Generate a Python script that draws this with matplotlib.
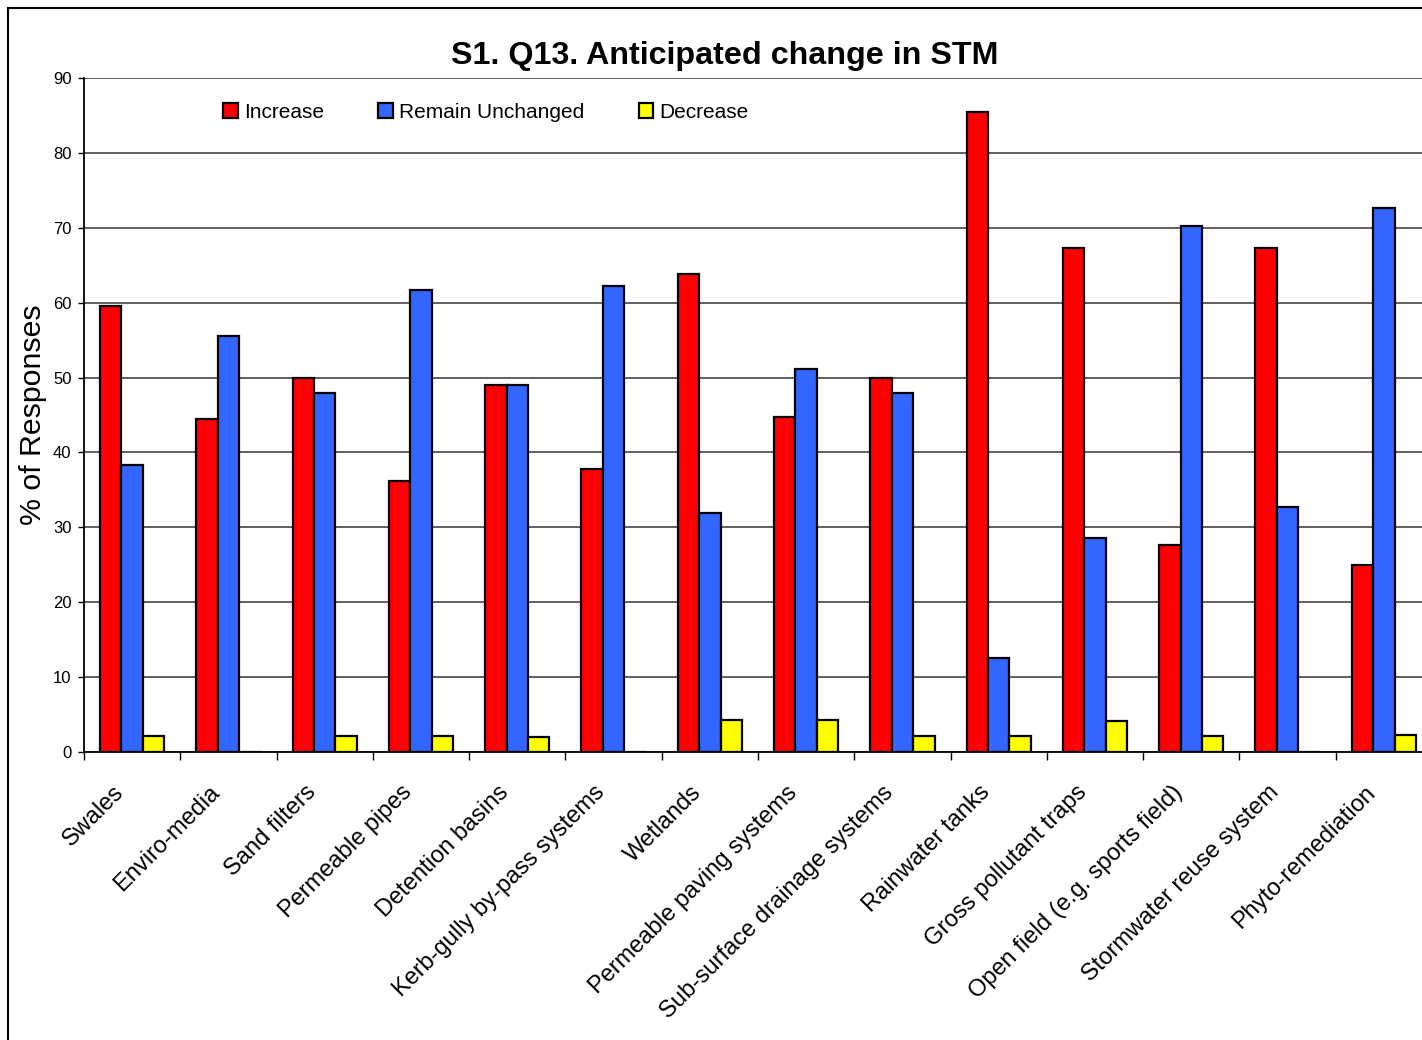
import matplotlib
matplotlib.use('Agg')
import matplotlib.pyplot as plt
from matplotlib.patches import Patch
from matplotlib.lines import Line2D
from matplotlib.transforms import ScaledTranslation
import numpy as np

categories = ['Swales', 'Enviro-media', 'Sand filters', 'Permeable pipes',
              'Detention basins', 'Kerb-gully by-pass systems', 'Wetlands',
              'Permeable paving systems', 'Sub-surface drainage systems',
              'Rainwater tanks', 'Gross pollutant traps',
              'Open field (e.g. sports field)', 'Stormwater reuse system',
              'Phyto-remediation']
increase = [59.6, 44.4, 50.0, 36.2, 49.0, 37.8, 63.8, 44.7, 50.0, 85.4, 67.3, 27.7, 67.3, 25.0]
unchanged = [38.3, 55.6, 47.9, 61.7, 49.0, 62.2, 31.9, 51.1, 47.9, 12.5, 28.6, 70.2, 32.7, 72.7]
decrease = [2.1, 0.0, 2.1, 2.1, 2.0, 0.0, 4.3, 4.3, 2.1, 2.1, 4.1, 2.1, 0.0, 2.3]
series_names = ['Increase', 'Remain Unchanged', 'Decrease']
yticks = [0, 10, 20, 30, 40, 50, 60, 70, 80, 90]
title = 'S1. Q13. Anticipated change in STM'
ylabel = '% of Responses'

plt.rcParams['font.family'] = ['Liberation Sans', 'DejaVu Sans']

W, H = 1422, 1040
fig = plt.figure(figsize=(W / 100, H / 100), dpi=100)
fig.patch.set_facecolor('white')

ax = fig.add_axes([84 / W, (H - 752) / H, 1348 / W, 674 / H])
x = np.arange(len(categories))
w = 1 / 4.5
colors = ['#FF0000', '#3366FF', '#FFFF00']
for k, (vals, name, c) in enumerate(zip([increase, unchanged, decrease], series_names, colors)):
    ax.bar(x + (k - 1) * w, vals, width=w, color=c, edgecolor='black',
           linewidth=1.6, label=name, zorder=3)

ax.set_xlim(-0.5, len(categories) - 0.5)
ax.set_ylim(0, 90)
ax.set_yticks(yticks)
ax.set_yticklabels([str(t) for t in yticks], fontsize=12)
ax.yaxis.grid(True, color='#444444', linewidth=1.2, zorder=0)
ax.set_axisbelow(True)

for s in ['top', 'right']:
    ax.spines[s].set_visible(False)
for s in ['left', 'bottom']:
    ax.spines[s].set_color('black')
    ax.spines[s].set_linewidth(1.3)
ax.spines['bottom'].set_zorder(4)

ax.set_xticks(np.arange(len(categories) + 1) - 0.5)
ax.set_xticklabels([''] * (len(categories) + 1))
ax.set_xticks(x, categories, minor=True, rotation=45, ha='right', va='center',
              rotation_mode='anchor', fontsize=17)
ax.tick_params(axis='x', which='major', direction='out', length=6, width=1, color='black')
ax.tick_params(axis='x', which='minor', length=0, pad=29)
ax.tick_params(axis='y', direction='out', length=4, width=1, color='black', pad=5)
shift = ScaledTranslation(-12 / 100, 3 / 100, fig.dpi_scale_trans)
for lab in ax.get_xticklabels(minor=True):
    lab.set_transform(lab.get_transform() + shift)

handles = [Patch(facecolor=c, edgecolor='black', linewidth=1.6, label=n)
           for c, n in zip(colors, series_names)]
fig.legend(handles=handles, loc='center', bbox_to_anchor=(486 / W, 1 - 112 / H),
           ncol=3, frameon=False, fontsize=15, handlelength=0.7, handleheight=0.7,
           handletextpad=0.3, columnspacing=2.6)

fig.text(725 / W, 1 - 56 / H, title, ha='center', va='center',
         fontsize=23.2, fontweight='bold')
fig.text(33 / W, 1 - 415 / H, ylabel, rotation=90, ha='center', va='center',
         fontsize=21.8)

# chart border (left and top visible; rest cropped)
fig.add_artist(Line2D([8 / W, 8 / W], [0, 1 - 8 / H], transform=fig.transFigure,
                      color='black', linewidth=1.5))
fig.add_artist(Line2D([8 / W, 1], [1 - 8 / H, 1 - 8 / H], transform=fig.transFigure,
                      color='black', linewidth=1.5))

fig.savefig('out.png', dpi=100)
